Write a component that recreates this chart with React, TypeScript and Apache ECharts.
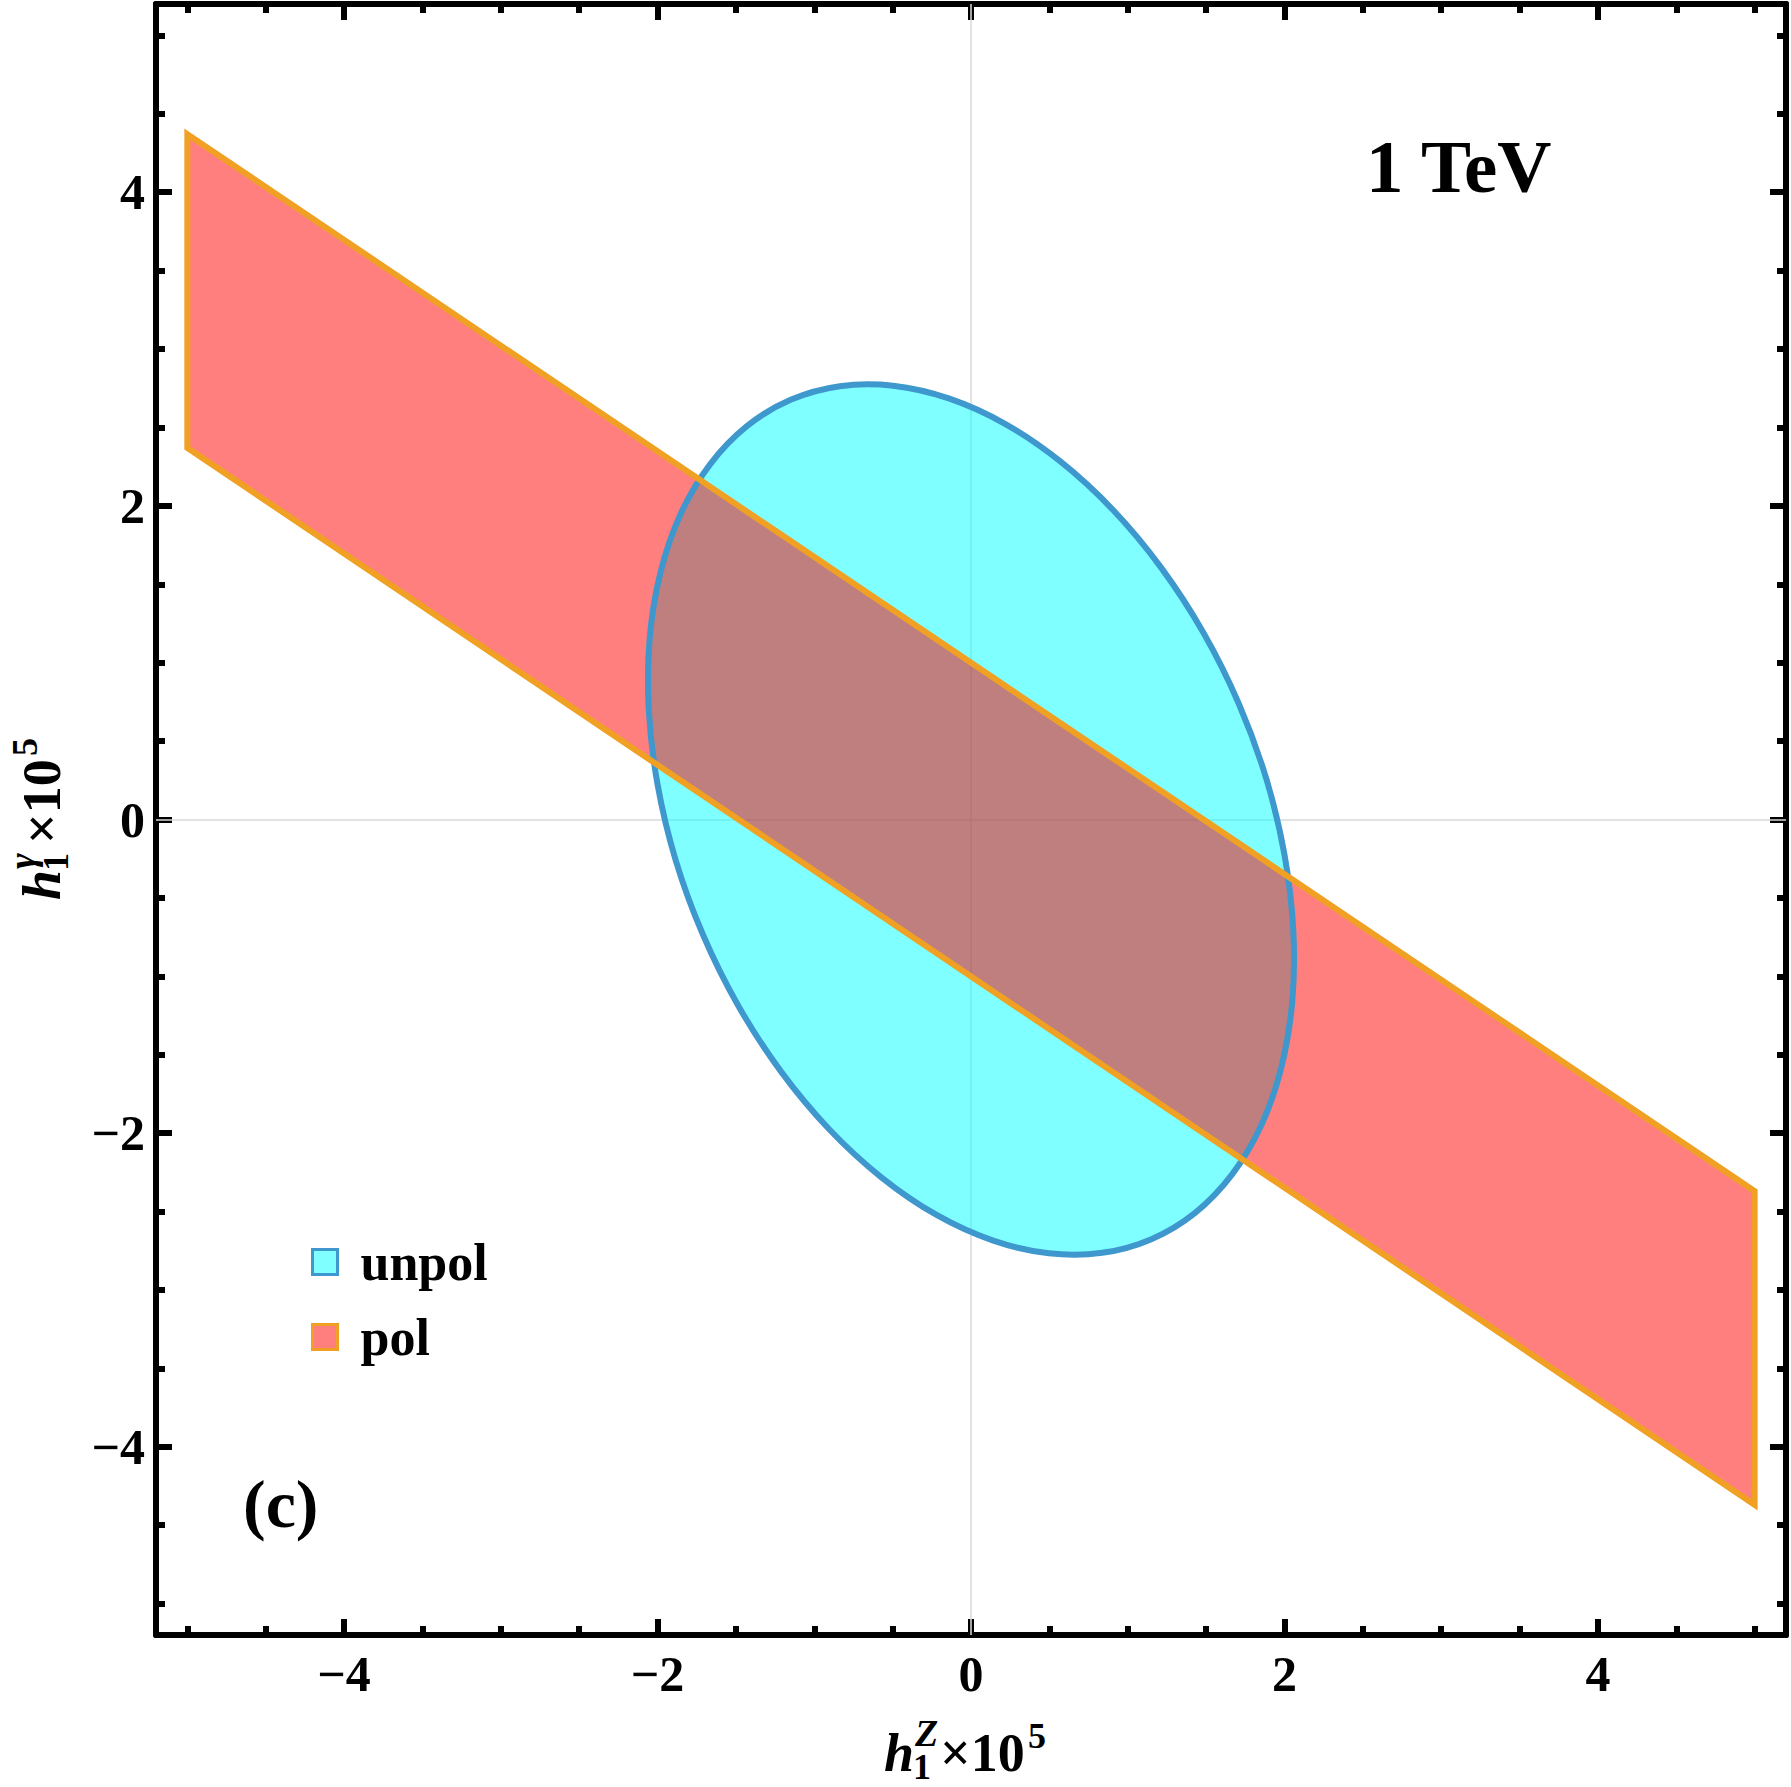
import React, { useEffect, useRef } from "react";
import * as echarts from "echarts";

// ---- axis ticks ----
const axisMin = -5.2;
const axisMax = 5.2;
const majorTicks = [-4, -2, 0, 2, 4];
const minorTicks = [-5, -4.5, -3.5, -3, -2.5, -1.5, -1, -0.5, 0.5, 1, 1.5, 2.5, 3, 3.5, 4.5, 5];

// ---- series names ----
const seriesNames = ["unpol", "pol"];

// ---- "unpol" region boundary ----
const unpolX = [
  1.151, 1.43, 1.666, 1.852, 1.981, 2.05, 2.056, 2.0, 1.884, 1.71, 1.484, 1.213,
  0.905, 0.57, 0.217, -0.142, -0.497, -0.837, -1.151, -1.43, -1.666, -1.852, -1.981, -2.05,
  -2.056, -2.0, -1.884, -1.71, -1.484, -1.213, -0.905, -0.57, -0.217, 0.142, 0.497, 0.837,
];
const unpolY = [
  -2.676, -2.508, -2.263, -1.95, -1.577, -1.157, -0.701, -0.224, 0.26, 0.735, 1.189, 1.606,
  1.975, 2.283, 2.523, 2.685, 2.766, 2.763, 2.676, 2.508, 2.263, 1.95, 1.577, 1.157,
  0.701, 0.224, -0.26, -0.735, -1.189, -1.606, -1.975, -2.283, -2.523, -2.685, -2.766, -2.763,
];

// ---- "pol" band ----
const polX = [-5, 5];
const polUpper = [4.37, -2.37];
const polLower = [2.37, -4.37];

const FONT = "'Liberation Serif', 'Times New Roman', serif";
const cyanFill = "rgba(0,255,255,0.5)";
const blueLine = "#3E97CD";
const redFill = "rgba(255,0,0,0.5)";
const orangeLine = "#F0A023";

const fmt = (v: number) => (v < 0 ? "\u2212" + Math.abs(v) : String(v));

function makeTitle(sup: string) {
  const t = (x: number, baseline: number, text: string, size: number, italic: boolean) => ({
    type: "text",
    x,
    y: baseline - 0.3375 * size,
    style: {
      text,
      fill: "#000",
      fontSize: size,
      fontWeight: "bold",
      fontStyle: italic ? "italic" : "normal",
      fontFamily: FONT,
      align: "left",
      verticalAlign: "middle",
    },
  });
  return [
    t(0, 0, "h", 54, true),
    t(31, -25, sup, 38, true),
    t(29, 8, "1", 36, false),
    t(56, 0, "\u00d710", 54, false),
    t(144, -23, "5", 36, false),
  ];
}

export default function App() {
  const ref = useRef<HTMLDivElement>(null);
  useEffect(() => {
    if (!ref.current) return;
    const chart = echarts.init(ref.current, null, { renderer: "svg" });

    const baseAxis: any = {
      type: "value",
      min: axisMin,
      max: axisMax,
      splitLine: { show: false },
      axisLabel: { show: false },
      axisLine: { show: false, onZero: false },
      axisTick: { show: false },
    };
    const frameLine = { show: true, onZero: false, lineStyle: { color: "#000", width: 6 } };
    const majorTick = {
      show: true,
      inside: true,
      length: 16,
      customValues: majorTicks,
      lineStyle: { color: "#000", width: 6 },
    };
    const minorTick = {
      show: true,
      inside: true,
      length: 9,
      customValues: minorTicks,
      lineStyle: { color: "#000", width: 6 },
    };
    const labelStyle = {
      show: true,
      customValues: majorTicks,
      formatter: fmt,
      fontSize: 50,
      fontWeight: "bold",
      fontFamily: FONT,
      color: "#000",
    };

    const band = () => [
      [polX[0], polUpper[0]],
      [polX[1], polUpper[1]],
      [polX[1], polLower[1]],
      [polX[0], polLower[0]],
    ];

    chart.setOption({
      animation: false,
      backgroundColor: "#fff",
      grid: { left: 156, right: 5, top: 4, bottom: 152, containLabel: false, outerBoundsMode: "none" },
      xAxis: [
        { ...baseAxis, position: "bottom", axisLine: frameLine, axisTick: majorTick, axisLabel: { ...labelStyle, margin: 14 } },
        { ...baseAxis, position: "bottom", axisTick: minorTick },
        { ...baseAxis, position: "top", axisLine: frameLine, axisTick: majorTick },
        { ...baseAxis, position: "top", axisTick: minorTick },
      ],
      yAxis: [
        { ...baseAxis, position: "left", axisLine: frameLine, axisTick: majorTick, axisLabel: { ...labelStyle, margin: 11 } },
        { ...baseAxis, position: "left", axisTick: minorTick },
        { ...baseAxis, position: "right", axisLine: frameLine, axisTick: majorTick },
        { ...baseAxis, position: "right", axisTick: minorTick },
      ],
      legend: {
        orient: "vertical",
        left: 311,
        top: 1231,
        padding: 0,
        itemWidth: 25,
        itemHeight: 25,
        itemGap: 13,
        icon: "rect",
        selectedMode: false,
        data: [
          { name: seriesNames[0], icon: "rect", itemStyle: { color: cyanFill, borderColor: blueLine, borderWidth: 3 } },
          { name: seriesNames[1], icon: "rect", itemStyle: { color: redFill, borderColor: orangeLine, borderWidth: 3 } },
        ],
        textStyle: {
          fontSize: 52,
          fontWeight: "bold",
          fontFamily: FONT,
          color: "#000",
          lineHeight: 52,
          padding: [10, 0, 0, 18],
        },
      },
      series: [
        {
          type: "custom",
          name: seriesNames[0],
          xAxisIndex: 0,
          yAxisIndex: 0,
          itemStyle: { color: cyanFill, borderColor: blueLine },
          data: [0],
          renderItem: (params: any, api: any) => {
            const pts = unpolX.map((x, i) => api.coord([x, unpolY[i]]));
            return {
              type: "group",
              children: [
                { type: "polygon", z2: 0, shape: { points: pts, smooth: 0.33 }, style: { fill: cyanFill, stroke: "none" } },
                { type: "polygon", z2: 2, shape: { points: pts, smooth: 0.33 }, style: { fill: "none", stroke: blueLine, lineWidth: 6 } },
              ],
            };
          },
          markLine: {
            silent: true,
            z: 1,
            symbol: ["none", "none"],
            label: { show: false },
            lineStyle: { color: "#d9d9d9", width: 1.5, type: "solid" },
            data: [{ xAxis: 0 }, { yAxis: 0 }],
          },
        },
        {
          type: "custom",
          name: seriesNames[1],
          xAxisIndex: 0,
          yAxisIndex: 0,
          itemStyle: { color: redFill, borderColor: orangeLine },
          data: [0],
          renderItem: (params: any, api: any) => {
            const pts = band().map((p) => api.coord(p));
            return {
              type: "group",
              children: [
                { type: "polygon", z2: 1, shape: { points: pts }, style: { fill: redFill, stroke: "none" } },
                { type: "polygon", z2: 3, shape: { points: pts }, style: { fill: "none", stroke: orangeLine, lineWidth: 6 } },
              ],
            };
          },
        },
      ],
      graphic: [
        {
          type: "text",
          x: 1366,
          y: 192 - 0.3375 * 75,
          style: { text: "1 TeV", fill: "#000", fontSize: 75, fontWeight: "bold", fontFamily: FONT, align: "left", verticalAlign: "middle" },
        },
        {
          type: "text",
          x: 243,
          y: 1527 - 0.3375 * 68,
          style: { text: "(c)", fill: "#000", fontSize: 68, fontWeight: "bold", fontFamily: FONT, align: "left", verticalAlign: "middle" },
        },
        { type: "group", x: 884, y: 1771, children: makeTitle("Z") },
        { type: "group", x: 60, y: 900, rotation: Math.PI / 2, children: makeTitle("\u03b3") },
      ],
    });
    return () => chart.dispose();
  }, []);
  return (
    <div
      ref={ref}
      style={{ position: "fixed", left: 0, top: 0, width: 1791, height: 1787, background: "#fff" }}
    />
  );
}
